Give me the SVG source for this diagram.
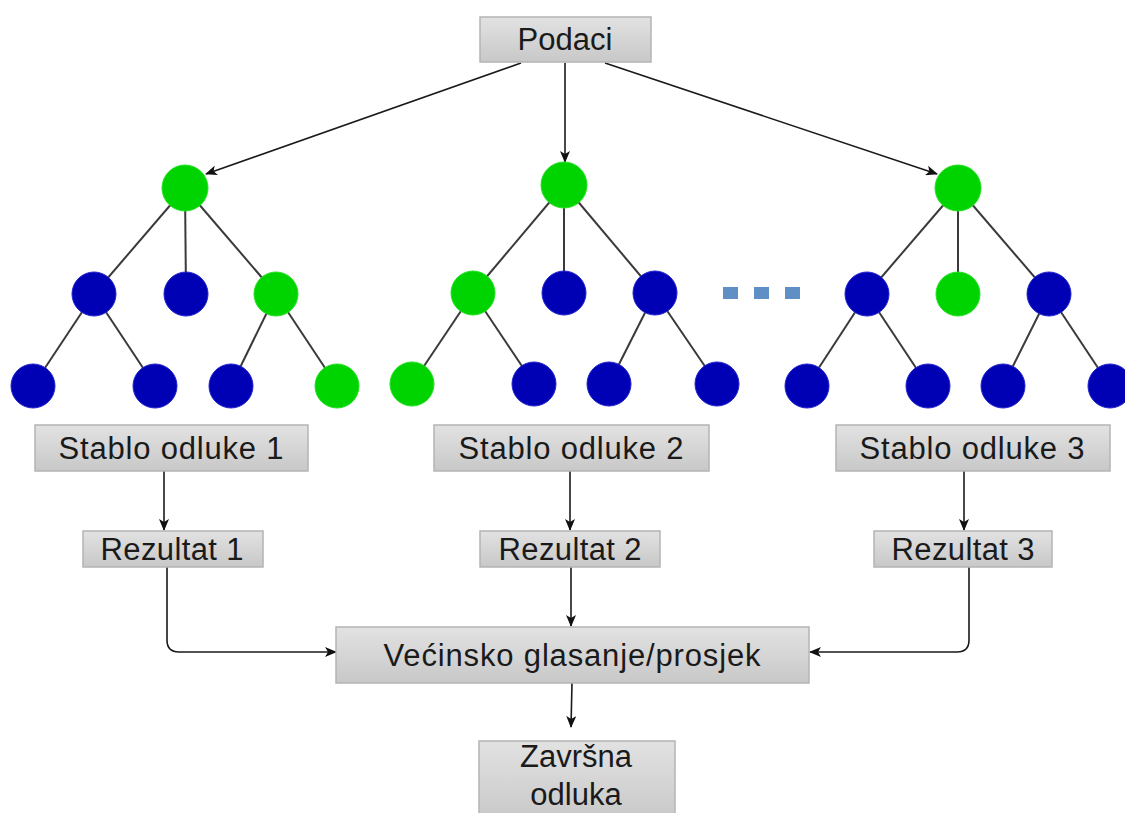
<svg xmlns="http://www.w3.org/2000/svg" width="1125" height="813" viewBox="0 0 1125 813">
<defs>
<linearGradient id="boxg" x1="0" y1="0" x2="0" y2="1">
<stop offset="0" stop-color="#e2e2e2"/>
<stop offset="1" stop-color="#c8c8c8"/>
</linearGradient>
<marker id="ah" viewBox="0 0 12 10" refX="11" refY="5" markerWidth="12" markerHeight="10" markerUnits="userSpaceOnUse" orient="auto">
<path d="M0,0 L12,5 L0,10 L3,5 Z" fill="#111"/>
</marker>
<style>
.box{fill:url(#boxg);stroke:#b4b4b4;stroke-width:1.5}
.lbl{font-family:"Liberation Sans",Arial,sans-serif;font-size:31px;fill:#1a1a1a;text-anchor:middle}
.edge{stroke:#3a3a3a;stroke-width:2;fill:none}
.conn{stroke:#1a1a1a;stroke-width:1.6;fill:none;marker-end:url(#ah)}
.g{fill:#00d400;stroke:#22e022;stroke-width:1}
.b{fill:#0000b4;stroke:#2222d0;stroke-width:1}
.dot{fill:#5f8fc4}
</style>
</defs>

<g id="connectors">
<line class="conn" x1="521" y1="63" x2="206" y2="174"/>
<line class="conn" x1="565" y1="63" x2="565" y2="162"/>
<line class="conn" x1="605" y1="63" x2="937" y2="174"/>
<line class="conn" x1="164" y1="471" x2="164" y2="530"/>
<line class="conn" x1="570" y1="471" x2="570" y2="530"/>
<line class="conn" x1="964" y1="471" x2="964" y2="530"/>
<path class="conn" d="M167,567 L167,640 Q167,652 179,652 L336,652"/>
<line class="conn" x1="571" y1="567" x2="571" y2="626"/>
<path class="conn" d="M969,567 L969,640 Q969,652 957,652 L810,652"/>
<line class="conn" x1="572" y1="683" x2="571" y2="727"/>
</g>

<g id="tree1-edges">
<line class="edge" x1="185" y1="188" x2="94" y2="294"/>
<line class="edge" x1="185" y1="188" x2="186" y2="294"/>
<line class="edge" x1="185" y1="188" x2="276" y2="294"/>
<line class="edge" x1="94" y1="294" x2="33" y2="386"/>
<line class="edge" x1="94" y1="294" x2="155" y2="386"/>
<line class="edge" x1="276" y1="294" x2="231" y2="386"/>
<line class="edge" x1="276" y1="294" x2="337" y2="386"/>
</g>
<g id="tree1">
<circle class="g" cx="185" cy="188" r="23"/>
<circle class="b" cx="94" cy="294" r="22"/>
<circle class="b" cx="186" cy="294" r="22"/>
<circle class="g" cx="276" cy="294" r="22"/>
<circle class="b" cx="33" cy="386" r="22"/>
<circle class="b" cx="155" cy="386" r="22"/>
<circle class="b" cx="231" cy="386" r="22"/>
<circle class="g" cx="337" cy="386" r="22"/>
</g>

<g id="tree2-edges">
<line class="edge" x1="564" y1="185" x2="473" y2="293"/>
<line class="edge" x1="564" y1="185" x2="564" y2="293"/>
<line class="edge" x1="564" y1="185" x2="655" y2="293"/>
<line class="edge" x1="473" y1="293" x2="412" y2="384"/>
<line class="edge" x1="473" y1="293" x2="534" y2="384"/>
<line class="edge" x1="655" y1="293" x2="609" y2="384"/>
<line class="edge" x1="655" y1="293" x2="717" y2="384"/>
</g>
<g id="tree2">
<circle class="g" cx="564" cy="185" r="23"/>
<circle class="g" cx="473" cy="293" r="22"/>
<circle class="b" cx="564" cy="293" r="22"/>
<circle class="b" cx="655" cy="293" r="22"/>
<circle class="g" cx="412" cy="384" r="22"/>
<circle class="b" cx="534" cy="384" r="22"/>
<circle class="b" cx="609" cy="384" r="22"/>
<circle class="b" cx="717" cy="384" r="22"/>
</g>

<g id="ellipsis">
<rect class="dot" x="723" y="287" width="15" height="12"/>
<rect class="dot" x="754" y="287" width="15" height="12"/>
<rect class="dot" x="785" y="287" width="15" height="12"/>
</g>

<g id="tree3-edges">
<line class="edge" x1="958" y1="188" x2="867" y2="294"/>
<line class="edge" x1="958" y1="188" x2="958" y2="294"/>
<line class="edge" x1="958" y1="188" x2="1049" y2="294"/>
<line class="edge" x1="867" y1="294" x2="807" y2="386"/>
<line class="edge" x1="867" y1="294" x2="928" y2="386"/>
<line class="edge" x1="1049" y1="294" x2="1003" y2="386"/>
<line class="edge" x1="1049" y1="294" x2="1110" y2="386"/>
</g>
<g id="tree3">
<circle class="g" cx="958" cy="188" r="23"/>
<circle class="b" cx="867" cy="294" r="22"/>
<circle class="g" cx="958" cy="294" r="22"/>
<circle class="b" cx="1049" cy="294" r="22"/>
<circle class="b" cx="807" cy="386" r="22"/>
<circle class="b" cx="928" cy="386" r="22"/>
<circle class="b" cx="1003" cy="386" r="22"/>
<circle class="b" cx="1110" cy="386" r="22"/>
</g>

<g id="podaci">
<rect class="box" x="480" y="17" width="171" height="45"/>
<text class="lbl" x="565" y="50" font-size="30">Podaci</text>
</g>

<g id="stablo1">
<rect class="box" x="35" y="425" width="273" height="46"/>
<text class="lbl" x="171" y="459" textLength="225">Stablo odluke 1</text>
</g>
<g id="stablo2">
<rect class="box" x="434" y="425" width="275" height="46"/>
<text class="lbl" x="571" y="459" textLength="225">Stablo odluke 2</text>
</g>
<g id="stablo3">
<rect class="box" x="836" y="425" width="274" height="46"/>
<text class="lbl" x="972" y="459" textLength="225">Stablo odluke 3</text>
</g>

<g id="rezultat1">
<rect class="box" x="83" y="531" width="180" height="36"/>
<text class="lbl" x="172" y="560" textLength="143">Rezultat 1</text>
</g>
<g id="rezultat2">
<rect class="box" x="480" y="531" width="180" height="36"/>
<text class="lbl" x="570" y="560" textLength="143">Rezultat 2</text>
</g>
<g id="rezultat3">
<rect class="box" x="874" y="531" width="178" height="36"/>
<text class="lbl" x="963" y="560" textLength="143">Rezultat 3</text>
</g>

<g id="vecinsko">
<rect class="box" x="336" y="627" width="473" height="56"/>
<text class="lbl" x="572" y="666" font-size="32" textLength="377">Većinsko glasanje/prosjek</text>
</g>

<g id="zavrsna">
<rect class="box" x="479" y="741" width="196" height="80"/>
<text class="lbl" x="576" y="767" font-size="31">Završna</text>
<text class="lbl" x="576" y="805" font-size="31">odluka</text>
</g>
</svg>
